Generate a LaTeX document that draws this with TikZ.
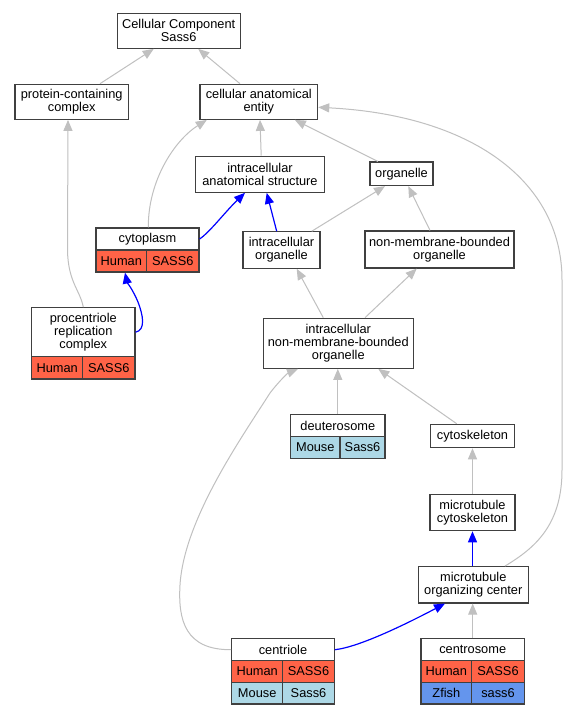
\documentclass[tikz,border=0pt]{standalone}
\usepackage{fontspec}
\usetikzlibrary{arrows.meta}
\newfontfamily\lsans{Liberation Sans}
\newcommand\nodefont{\lsans\fontsize{12.8}{13.2}\selectfont}
\definecolor{tomatoc}{HTML}{FF6347}
\definecolor{lightbluec}{HTML}{ADD8E6}
\definecolor{cornflowerc}{HTML}{6495ED}
\definecolor{edgegray}{HTML}{C0C0C0}
\definecolor{boxline}{HTML}{404040}
\tikzset{
  box/.style 2 args={draw=boxline, line width=1.2pt, fill=white, inner sep=0pt,
    align=center, font=\nodefont, minimum width=#1pt, minimum height=#2pt},
  gedge/.style={draw=edgegray, line width=1pt, -{Triangle[length=11pt,width=9pt]}},
  bedge/.style={draw=blue, line width=1.2pt, -{Triangle[length=11pt,width=9pt]}},
  hum/.style={fill=tomatoc},
  mou/.style={fill=lightbluec},
  zf/.style={fill=cornflowerc}
}
\begin{document}
\begin{tikzpicture}[x=1pt,y=-1pt]
\useasboundingbox[fill=white] (0,0) rectangle (568,715);
% nodes
\node[box={123}{35}] (root) at (178.7,30.8) {Cellular Component\\Sass6};
\node[box={113.3}{35}] (pcc) at (71.7,101.8) {protein-containing\\complex};
\node[box={117.7}{35}] (cae) at (258.8,101.8) {cellular anatomical\\entity};
\node[box={128.5}{36}] (ias) at (260,174.2) {intracellular\\anatomical structure};
\node[box={63}{23.5}] (org) at (401.5,173.8) {organelle};
\node[box={103}{22}] (cyt) at (147.5,239) {cytoplasm};
\node[box={50.7}{22}, hum] (cyth) at (121.3,261) {Human};
\node[box={52.3}{22}, hum] (cytg) at (172.8,261) {SASS6};
\node[box={77}{36.3}] (io) at (281.5,250) {intracellular\\organelle};
\node[box={149}{37}] (nmbo) at (439.5,249.5) {non-membrane-bounded\\organelle};
\node[box={103.3}{49}] (prc) at (83.3,332.2) {procentriole\\replication\\complex};
\node[box={51}{22.3}, hum] (prch) at (57.2,367.8) {Human};
\node[box={52.3}{22.3}, hum] (prcg) at (108.8,367.8) {SASS6};
\node[box={150}{50}] (inbo) at (338.3,343.3) {intracellular\\non-membrane-bounded\\organelle};
\node[box={94.3}{22.4}] (deu) at (337.8,425.5) {deuterosome};
\node[box={49.3}{21.6}, mou] (deum) at (315.3,447.5) {Mouse};
\node[box={45}{21.6}, mou] (deug) at (362.5,447.5) {Sass6};
\node[box={83.6}{23.4}] (csk) at (472.5,436) {cytoskeleton};
\node[box={85}{36.4}] (mtc) at (472.5,512.5) {microtubule\\cytoskeleton};
\node[box={110}{36.3}] (moc) at (473.3,584.8) {microtubule\\organizing center};
\node[box={102.6}{22}] (cen) at (283,649.7) {centriole};
\node[box={51}{21.6}, hum] (cenh) at (257.2,671.5) {Human};
\node[box={51.6}{21.6}, hum] (ceng) at (308.5,671.5) {SASS6};
\node[box={51}{21.7}, mou] (cenm) at (257.2,693.2) {Mouse};
\node[box={51.6}{21.7}, mou] (cenmg) at (308.5,693.2) {Sass6};
\node[box={103.3}{22}] (cso) at (472.7,649.7) {centrosome};
\node[box={50.7}{21.6}, hum] (csoh) at (446.3,671.5) {Human};
\node[box={52.6}{21.6}, hum] (csog) at (498,671.5) {SASS6};
\node[box={50.7}{21.7}, zf] (csoz) at (446.3,693.2) {Zfish};
\node[box={52.6}{21.7}, zf] (csozg) at (498,693.2) {sass6};
% edges
\draw[gedge] ([xshift=28.3pt]pcc.north) -- ([xshift=-25pt]root.south);
\draw[gedge] ([xshift=-18.8pt]cae.north) -- ([xshift=19.5pt]root.south);
\draw[gedge] ([xshift=1.2pt]ias.north) -- ([xshift=1.2pt]cae.south);
\draw[gedge] ([xshift=-23.5pt]org.north) -- ([xshift=36pt]cae.south);
\draw[gedge] ([xshift=0.8pt]cyt.north) .. controls (148,180) and (175,140) .. ([xshift=-52pt]cae.south);
\draw[bedge] (cyt.east) .. controls (210,232) and (225,212) .. ([xshift=-15pt]ias.south);
\draw[bedge] ([xshift=-4.8pt]io.north) -- ([xshift=6.7pt]ias.south);
\draw[gedge] ([xshift=30.2pt]io.north) -- ([xshift=-16.5pt]org.south);
\draw[gedge] ([xshift=-9.5pt]nmbo.north) -- ([xshift=6.8pt]org.south);
\draw[gedge] ([xshift=31.7pt]moc.north) .. controls (535,548) and (562,525) .. (562,470) -- (562,280) .. controls (562,180) and (470,115) .. ([yshift=-5.5pt]cae.east);
\draw[gedge] (prc.north) .. controls (80,290) and (68,282) .. (67.5,250) -- ([xshift=-3.7pt]pcc.south);
\draw[bedge] (prc.east) .. controls (146,330) and (143,315) .. (138,302) .. controls (133,290) and (127,282) .. ([xshift=3.7pt]cyth.south);
\draw[gedge] ([xshift=-15pt]inbo.north) -- ([xshift=15.2pt]io.south);
\draw[gedge] ([xshift=26.7pt]inbo.north) -- ([xshift=-22.8pt]nmbo.south);
\draw[gedge] (deu.north) -- ([xshift=-0.5pt]inbo.south);
\draw[gedge] ([xshift=-15.8pt]csk.north) -- ([xshift=40pt]inbo.south);
\draw[gedge] (cen.west) .. controls (185,650) and (178,620) .. (180,585) .. controls (184,520) and (240,440) .. (270,393) .. controls (280,380) and (288,373) .. ([xshift=-40.3pt]inbo.south);
\draw[gedge] (mtc.north) -- (csk.south);
\draw[bedge] ([xshift=-0.8pt]moc.north) -- (mtc.south);
\draw[bedge] (cen.east) .. controls (360,647) and (410,622) .. ([xshift=-28.3pt]moc.south);
\draw[gedge] (cso.north) -- ([xshift=-0.6pt]moc.south);
\end{tikzpicture}
\end{document}
